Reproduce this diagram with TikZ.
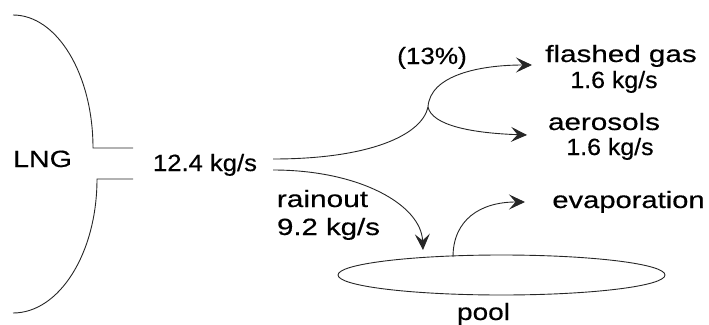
\documentclass[tikz,border=0pt]{standalone}
\usepackage{fontspec}
\setmainfont{Liberation Sans}[FakeBold=0.4]
\usetikzlibrary{arrows.meta,shapes.geometric}
\begin{document}
\begin{tikzpicture}[x=1pt,y=-1pt,
  lbl/.style={anchor=base,inner sep=0pt,font=\fontsize{23.5}{27}\selectfont},
  ln/.style={line width=0.9pt,black!85},
  flow/.style={ln,-{Stealth[length=16pt,width=15pt,inset=6.5pt]}}]
\useasboundingbox (0,0) rectangle (709,324);
% tank
\coordinate (t1) at (13,15);
\coordinate (t2) at (93,148);
\coordinate (t3) at (133,148);
\coordinate (b1) at (133,179);
\coordinate (b2) at (97,179);
\coordinate (b3) at (13,313);
\draw[ln] (t1) arc[start angle=90,end angle=0,x radius=80,y radius=-133] -- (t3);
\draw[ln] (b1) -- (b2) arc[start angle=0,end angle=-90,x radius=84,y radius=-134];
% labels
\node[lbl] (lng) at (42.5,167) {\scalebox{1.22}[1]{LNG}};
\node[lbl] (rate) at (205,171) {\scalebox{1.09}[1]{12.4 kg/s}};
\node[lbl] (pct) at (432,64) {\scalebox{1.11}[1]{(13\%)}};
\node[lbl] (fg) at (621,62) {\scalebox{1.26}[1]{flashed gas}};
\node[lbl] (fgr) at (614,88) {\scalebox{1.06}[1]{1.6 kg/s}};
\node[lbl] (aer) at (604,130) {\scalebox{1.26}[1]{aerosols}};
\node[lbl] (aerr) at (610,155) {\scalebox{1.06}[1]{1.6 kg/s}};
\node[lbl] (rain) at (322.5,207) {\scalebox{1.27}[1]{rainout}};
\node[lbl] (rainr) at (328.5,235) {\scalebox{1.25}[1]{9.2 kg/s}};
\node[lbl] (evap) at (628.5,208) {\scalebox{1.24}[1]{evaporation}};
\node[lbl] (poollbl) at (483.5,320) {\scalebox{1.19}[1]{pool}};
% pool
\node[draw,ln,ellipse,minimum width=327pt,minimum height=40pt,inner sep=0pt] (pool) at (501.5,275) {};
% flow coordinates
\coordinate (s1) at (273,159);
\coordinate (s2) at (273,170);
\coordinate (br) at (428,107);
\coordinate (e1) at (532,65);
\coordinate (e2) at (527,135);
\coordinate (e3) at (423,250);
\coordinate (p1) at (453,257);
\coordinate (e4) at (525,202);
\draw[ln] (s1) .. controls (370,159) and (422,135) .. (br);
\draw[flow] (br) .. controls (430,75) and (480,65) .. (e1);
\draw[flow] (br) .. controls (432,125) and (470,133) .. (e2);
\draw[flow] (s2) .. controls (360,170) and (421,205) .. (e3);
\draw[flow] (p1) .. controls (453,220) and (480,202) .. (e4);
\end{tikzpicture}
\end{document}
